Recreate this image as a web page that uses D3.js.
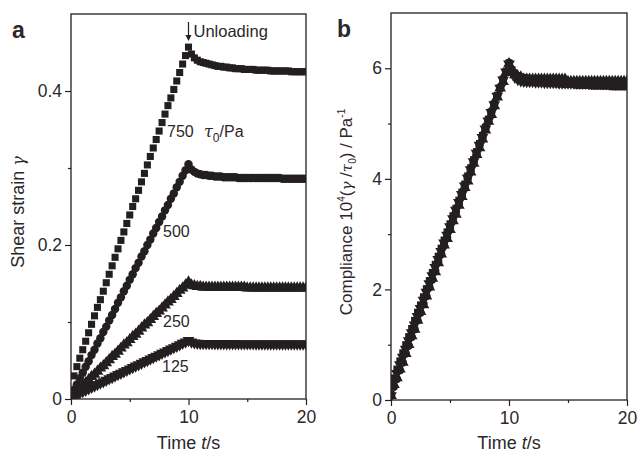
<!DOCTYPE html>
<html>
<head>
<meta charset="utf-8">
<script src="https://cdn.jsdelivr.net/npm/d3@7"></script>
<style>
    body { margin: 0; background: #fff; }
    svg text { font-family: "Liberation Sans", Arial, sans-serif; fill: #2b2829; }
</style>
</head>
<body>
<script>
// #region DATA
var time = [
    0, 0.25, 0.5, 0.75, 1, 1.25, 1.5, 1.75, 2, 2.25, 2.5, 2.75, 3, 3.25, 3.5, 3.75,
    4, 4.25, 4.5, 4.75, 5, 5.25, 5.5, 5.75, 6, 6.25, 6.5, 6.75, 7, 7.25, 7.5, 7.75,
    8, 8.25, 8.5, 8.75, 9, 9.25, 9.5, 9.75, 10,
    10.25, 10.5, 10.75, 11, 11.25, 11.5, 11.75, 12, 12.25, 12.5, 12.75, 13, 13.25, 13.5, 13.75,
    14, 14.25, 14.5, 14.75, 15, 15.25, 15.5, 15.75, 16, 16.25, 16.5, 16.75, 17, 17.25, 17.5, 17.75,
    18, 18.25, 18.5, 18.75, 19, 19.25, 19.5, 19.75, 20
];

var stress = [750, 500, 250, 125];

var strain750 = [
    0.008, 0.030, 0.042, 0.053, 0.064, 0.075, 0.086, 0.097, 0.108, 0.119, 0.129, 0.140, 0.151, 0.162, 0.173, 0.184,
    0.195, 0.206, 0.217, 0.228, 0.239, 0.250, 0.260, 0.271, 0.282, 0.293, 0.304, 0.315, 0.326, 0.337, 0.348, 0.359,
    0.370, 0.381, 0.391, 0.402, 0.413, 0.424, 0.435, 0.446, 0.457,
    0.448, 0.443, 0.440, 0.438, 0.437, 0.436, 0.435, 0.434, 0.433, 0.432, 0.432, 0.431, 0.431, 0.430, 0.430,
    0.429, 0.429, 0.429, 0.428, 0.428, 0.428, 0.428, 0.427, 0.427, 0.427, 0.427, 0.427, 0.426, 0.426, 0.426, 0.426,
    0.426, 0.426, 0.426, 0.425, 0.425, 0.425, 0.425, 0.425, 0.425
];

var strain500 = [
    0.004, 0.012, 0.019, 0.027, 0.034, 0.042, 0.049, 0.057, 0.064, 0.072, 0.079, 0.087, 0.094, 0.102, 0.109, 0.117,
    0.125, 0.132, 0.140, 0.147, 0.155, 0.162, 0.170, 0.177, 0.185, 0.192, 0.200, 0.207, 0.215, 0.222, 0.230, 0.237,
    0.245, 0.252, 0.260, 0.267, 0.275, 0.282, 0.290, 0.297, 0.305,
    0.298, 0.295, 0.293, 0.292, 0.291, 0.291, 0.290, 0.290, 0.289, 0.289, 0.289, 0.288, 0.288, 0.288, 0.288,
    0.288, 0.287, 0.287, 0.287, 0.287, 0.287, 0.287, 0.287, 0.287, 0.287, 0.287, 0.287, 0.287, 0.287, 0.287, 0.287,
    0.286, 0.286, 0.286, 0.286, 0.286, 0.286, 0.286, 0.286, 0.286
];

var strain250 = [
    0.002, 0.007, 0.010, 0.014, 0.017, 0.021, 0.025, 0.029, 0.032, 0.036, 0.040, 0.043, 0.047, 0.051, 0.055, 0.058,
    0.062, 0.066, 0.070, 0.073, 0.077, 0.081, 0.084, 0.088, 0.092, 0.096, 0.099, 0.103, 0.107, 0.111, 0.114, 0.118,
    0.122, 0.126, 0.129, 0.133, 0.137, 0.141, 0.144, 0.148, 0.152,
    0.148, 0.147, 0.146, 0.146, 0.145, 0.145, 0.145, 0.145, 0.145, 0.145, 0.145, 0.145, 0.145, 0.145, 0.145,
    0.145, 0.145, 0.145, 0.145, 0.144, 0.144, 0.144, 0.144, 0.144, 0.144, 0.144, 0.144, 0.144, 0.144, 0.144, 0.144,
    0.144, 0.144, 0.144, 0.144, 0.144, 0.144, 0.144, 0.144, 0.144
];

var strain125 = [
    0.001, 0.004, 0.006, 0.0080, 0.0097, 0.0115, 0.0134, 0.0152, 0.0170, 0.0189, 0.0207, 0.0226, 0.0244, 0.0263, 0.0281, 0.0300,
    0.0318, 0.0336, 0.0355, 0.0373, 0.0392, 0.0410, 0.0429, 0.0447, 0.0465, 0.0484, 0.0502, 0.0521, 0.0539, 0.0558, 0.0576, 0.0594,
    0.0613, 0.0631, 0.0650, 0.0668, 0.0687, 0.0705, 0.0724, 0.0742, 0.0760,
    0.0740, 0.0730, 0.0725, 0.0722, 0.0721, 0.0720, 0.0720, 0.0720, 0.0719, 0.0719, 0.0719, 0.0718, 0.0718, 0.0718, 0.0718,
    0.0718, 0.0717, 0.0717, 0.0717, 0.0717, 0.0717, 0.0717, 0.0716, 0.0716, 0.0716, 0.0716, 0.0716, 0.0716, 0.0716, 0.0716, 0.0716,
    0.0715, 0.0715, 0.0715, 0.0715, 0.0715, 0.0715, 0.0715, 0.0715, 0.0715
];

var xTicks = [0, 10, 20];
var xMinor = [5, 15];
var yTicksA = [0, 0.2, 0.4];
var yMinorA = [0.1, 0.3];
var yTicksB = [0, 2, 4, 6];
var yMinorB = [1, 3, 5];
// #endregion

var ink = "#231f20";

var series = [
    {tau: stress[0], values: strain750, symbol: d3.symbolSquare, size: 50, rotate: 0},
    {tau: stress[1], values: strain500, symbol: d3.symbolCircle, size: 56, rotate: 0},
    {tau: stress[2], values: strain250, symbol: d3.symbolTriangle, size: 60, rotate: 0},
    {tau: stress[3], values: strain125, symbol: d3.symbolTriangle, size: 60, rotate: 180}
];

// #region SETUP
var svg = d3.select("body")
    .append("svg")
    .attr("width", 638)
    .attr("height", 452);

var panelA = {left: 71, right: 306, top: 14, bottom: 399};
var panelB = {left: 391, right: 627, top: 13, bottom: 400};

var xA = d3.scaleLinear().domain([0, 20]).range([panelA.left, panelA.right]);
var yA = d3.scaleLinear().domain([0, 0.5]).range([panelA.bottom, panelA.top]);
var xB = d3.scaleLinear().domain([0, 20]).range([panelB.left, panelB.right]);
var yB = d3.scaleLinear().domain([0, 7]).range([panelB.bottom, panelB.top]);
// #endregion

// #region AXES
function drawAxes(p, x, y, yTicks, yMinor, yFormat) {
    var g = svg.append("g");

    g.append("g")
        .attr("transform", "translate(0," + p.bottom + ")")
        .call(d3.axisBottom(x).tickValues(xTicks).tickSize(6).tickPadding(6).tickFormat(d3.format("d")))
        .call(a => a.select(".domain").remove());

    g.append("g")
        .attr("transform", "translate(0," + p.bottom + ")")
        .call(d3.axisBottom(x).tickValues(xMinor).tickSize(3).tickFormat(""))
        .call(a => a.select(".domain").remove());

    g.append("g")
        .attr("transform", "translate(" + p.left + ",0)")
        .call(d3.axisLeft(y).tickValues(yTicks).tickSize(6).tickPadding(3).tickFormat(yFormat))
        .call(a => a.select(".domain").remove());

    g.append("g")
        .attr("transform", "translate(" + p.left + ",0)")
        .call(d3.axisLeft(y).tickValues(yMinor).tickSize(3).tickFormat(""))
        .call(a => a.select(".domain").remove());

    g.selectAll(".tick line")
        .attr("stroke", ink)
        .attr("stroke-width", 1.2);

    g.selectAll(".tick text")
        .style("font-size", "17.5px")
        .attr("fill", "#2b2829");

    g.append("rect")
        .attr("x", p.left)
        .attr("y", p.top)
        .attr("width", p.right - p.left)
        .attr("height", p.bottom - p.top)
        .attr("fill", "none")
        .attr("stroke", ink)
        .attr("stroke-width", 1.3);
}

drawAxes(panelA, xA, yA, yTicksA, yMinorA, d => d == 0 ? "0" : d3.format(".1f")(d));
drawAxes(panelB, xB, yB, yTicksB, yMinorB, d3.format("d"));
// #endregion

// #region MARKERS
var defs = svg.append("defs");
defs.append("clipPath").attr("id", "clipA")
    .append("rect")
    .attr("x", panelA.left).attr("y", panelA.top - 10)
    .attr("width", panelA.right - panelA.left).attr("height", panelA.bottom - panelA.top + 10);
defs.append("clipPath").attr("id", "clipB")
    .append("rect")
    .attr("x", panelB.left).attr("y", panelB.top)
    .attr("width", panelB.right - panelB.left).attr("height", panelB.bottom - panelB.top);

function drawMarkers(clip, x, y, valueOf) {
    var g = svg.append("g").attr("clip-path", "url(#" + clip + ")");
    series.forEach(function(s) {
        g.append("g")
            .selectAll("path")
            .data(s.values)
            .enter()
            .append("path")
            .attr("d", d3.symbol().type(s.symbol).size(s.size))
            .attr("transform", (d, i) => "translate(" + x(time[i]) + "," + y(valueOf(d, s)) + ") rotate(" + s.rotate + ")")
            .attr("fill", ink);
    });
}

drawMarkers("clipA", xA, yA, d => d);
drawMarkers("clipB", xB, yB, (d, s) => d / s.tau * 1e4);
// #endregion

// #region LABELS
svg.append("text")
    .text("a")
    .attr("x", 12)
    .attr("y", 38)
    .style("font-size", "23px")
    .style("font-weight", "bold");

svg.append("text")
    .text("b")
    .attr("x", 337)
    .attr("y", 37)
    .style("font-size", "23px")
    .style("font-weight", "bold");

// unloading arrow
svg.append("line")
    .attr("x1", xA(10)).attr("x2", xA(10))
    .attr("y1", 22).attr("y2", 36)
    .attr("stroke", ink)
    .attr("stroke-width", 1.2);
svg.append("path")
    .attr("d", "M" + (xA(10) - 3) + ",35 L" + (xA(10) + 3) + ",35 L" + xA(10) + ",41 Z")
    .attr("fill", ink);

svg.append("text")
    .text("Unloading")
    .attr("x", xA(10) + 5)
    .attr("y", 37)
    .style("font-size", "16.5px");

var curveLabels = [
    {text: "750", x: 167, y: 137},
    {text: "500", x: 163, y: 237},
    {text: "250", x: 163, y: 327},
    {text: "125", x: 162, y: 372}
];

svg.append("g")
    .selectAll("text")
    .data(curveLabels)
    .enter()
    .append("text")
    .text(d => d.text)
    .attr("x", d => d.x)
    .attr("y", d => d.y)
    .style("font-size", "16px");

var tauLabel = svg.append("text")
    .attr("x", 204)
    .attr("y", 137)
    .style("font-size", "16px");
tauLabel.append("tspan").text("τ").style("font-style", "italic").style("font-family", "'DejaVu Serif', serif");
tauLabel.append("tspan").text("0").attr("dy", 5).style("font-size", "12px");
tauLabel.append("tspan").text("/Pa").attr("dy", -5);

// x axis titles
[panelA, panelB].forEach(function(p) {
    var t = svg.append("text")
        .attr("x", (p.left + p.right) / 2)
        .attr("y", 449)
        .attr("text-anchor", "middle")
        .style("font-size", "18px");
    t.append("tspan").text("Time ");
    t.append("tspan").text("t").style("font-style", "italic");
    t.append("tspan").text("/s");
});

// y axis titles
var yTitleA = svg.append("text")
    .attr("transform", "translate(24,212) rotate(-90)")
    .attr("text-anchor", "middle")
    .style("font-size", "18px");
yTitleA.append("tspan").text("Shear strain ");
yTitleA.append("tspan").text("γ").style("font-style", "italic").style("font-family", "'DejaVu Serif', serif").style("font-size", "16px");

var yTitleB = svg.append("text")
    .attr("transform", "translate(352,212) rotate(-90)")
    .attr("text-anchor", "middle")
    .style("font-size", "17px");
yTitleB.append("tspan").text("Compliance 10");
yTitleB.append("tspan").text("4").attr("dy", -7).style("font-size", "10px");
yTitleB.append("tspan").text("(").attr("dy", 7);
yTitleB.append("tspan").text("γ").style("font-style", "italic").style("font-family", "'DejaVu Serif', serif").style("font-size", "15px");
yTitleB.append("tspan").text(" /");
yTitleB.append("tspan").text("τ").style("font-style", "italic").style("font-family", "'DejaVu Serif', serif").style("font-size", "15px");
yTitleB.append("tspan").text("0").attr("dy", 4).style("font-size", "10px");
yTitleB.append("tspan").text(") / Pa").attr("dy", -4);
yTitleB.append("tspan").text("-1").attr("dy", -7).style("font-size", "10px");
// #endregion
</script>
</body>
</html>
